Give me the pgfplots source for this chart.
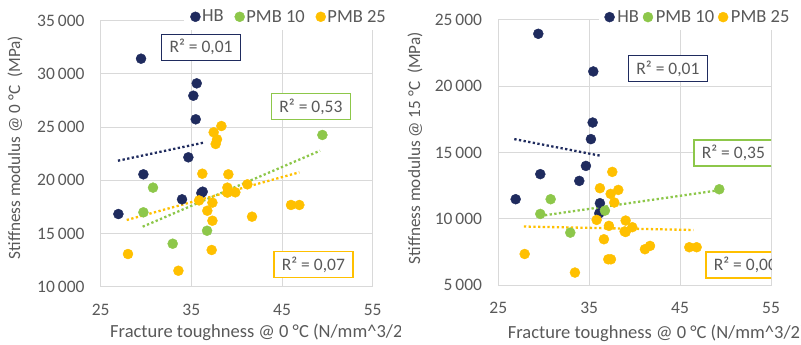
\documentclass[border=0pt]{standalone}
\usepackage{fontspec}
\setmainfont{Carlito}
\usepackage{pgfplots}
\pgfplotsset{compat=1.18}
\definecolor{hb}{HTML}{1F2B5E}
\definecolor{pmbA}{HTML}{8DC74A}
\definecolor{pmbB}{HTML}{FFC000}
\definecolor{gridc}{HTML}{D9D9D9}
\definecolor{txt}{HTML}{595959}
\tikzset{
 rbox/.style={draw=#1, line width=1.5pt, fill=white, minimum width=79pt, minimum height=26pt, inner sep=0pt, font=\fontsize{17.5}{20}\selectfont, text=txt},
}
\pgfplotsset{
 mystyle/.style={
  scale only axis, width=272pt, height=266pt,
  xmin=25,xmax=55, xtick={25,35,45,55},
  grid=major, major grid style={gridc, line width=1pt},
  axis line style={gridc, line width=1pt},
  major tick length=0pt,
  tick label style={font=\fontsize{17.5}{20}\selectfont, text=txt, inner sep=0pt},
  xticklabel style={yshift=-17pt},
  yticklabel style={xshift=-16pt},
  /pgf/number format/assume math mode=true,
  /pgf/number format/1000 sep={\,},
  scaled y ticks=false,
  xlabel style={anchor=west, font=\fontsize{18.5}{22}\selectfont, text=txt},
  ylabel style={anchor=center, font=\fontsize{17.2}{20}\selectfont, text=txt},
  legend columns=-1,
  legend style={draw=none, fill=white, font=\fontsize{18.5}{22}\selectfont, text=txt, anchor=south west, inner xsep=6pt, inner ysep=4pt},
  legend image code/.code={\draw[#1] plot coordinates {(0pt,0pt)};},
 },
 pts/.style={only marks, mark=*, mark size=5pt, color=#1, mark options={draw=#1, fill=#1}},
 trend/.style={#1, dash pattern=on 2.3pt off 2.4pt, line width=2.3pt, forget plot},
}
\begin{document}
\begin{tikzpicture}
\useasboundingbox (0,0) rectangle (801pt,345pt);
\begin{scope}
\clip (0,0) rectangle (400pt,345pt);
\begin{axis}[mystyle, at={(100.7pt,58.3pt)}, anchor=south west,
  ymin=10000, ymax=35000, ytick={10000,15000,20000,25000,30000,35000},
  xlabel={Fracture toughness @ 0 °C (N/mm\textasciicircum 3/2)},
  ylabel={Stiffness modulus @ 0 °C\ \ (MPa)},
  xlabel style={at={(axis description cs:0.022,-0.173)}},
  ylabel style={at={(axis description cs:-0.315,0.523)}},
  legend style={at={(axis description cs:0.307,0.966)}, nodes={inner xsep=1.7pt, inner ysep=2pt},
     /tikz/every even column/.append style={column sep=9.3pt}}]
\addplot[pts=hb] coordinates {(29.45,31430) (35.59,29110) (35.22,27950) (35.48,25730) (34.67,22160) (29.71,20560) (36.25,18930) (36.10,18800) (33.97,18210) (26.95,16830)};
\addplot[pts=pmbA] coordinates {(49.45,24260) (30.77,19310) (29.71,16990) (36.73,15260) (32.94,14040)};
\addplot[pts=pmbB] coordinates {(38.31,25100) (37.46,24510) (37.83,23850) (37.68,23410) (36.21,20620) (39.08,20560) (38.97,19310) (39.85,18870) (41.18,19620) (38.97,18840) (35.85,18110) (37.32,17900) (36.76,17140) (37.32,16200) (41.69,16580) (45.99,17680) (46.91,17680) (37.24,13450) (28.01,13070) (33.57,11500)};
\legend{HB, PMB 10, PMB 25}
\addplot[trend=hb] coordinates {(26.9,21840) (36.3,23530)};
\addplot[trend=pmbA] coordinates {(29.63,15640) (49.19,22780)};
\addplot[trend=pmbB] coordinates {(27.87,16270) (46.91,20750)};
\node[rbox=hb] at (rel axis cs:0.369,0.900) {R² = 0,01};
\node[rbox=pmbA] at (rel axis cs:0.773,0.677) {R² = 0,53};
\node[rbox=pmbB] at (rel axis cs:0.782,0.083) {R² = 0,07};
\end{axis}
\end{scope}
\begin{axis}[mystyle, at={(498.3pt,59.7pt)}, anchor=south west,
  width=272.7pt, height=265.3pt,
  ymin=5000, ymax=25000, ytick={5000,10000,15000,20000,25000},
  xlabel={Fracture toughness @ 0 °C (N/mm\textasciicircum 3/2)},
  ylabel={Stiffness modulus @ 15 °C\ \ (MPa)},
  xlabel style={at={(axis description cs:0.022,-0.18)}},
  ylabel style={at={(axis description cs:-0.305,0.517)}},
  legend style={at={(axis description cs:0.367,0.962)}, nodes={inner xsep=2.85pt, inner ysep=2pt},
     /tikz/every even column/.append style={column sep=1.1pt}}]
\addplot[pts=hb] coordinates {(29.40,23960) (35.45,21120) (35.38,17270) (35.19,16020) (34.64,14000) (29.62,13380) (33.91,12870) (26.91,11490) (36.18,11190) (36.11,10430)};
\addplot[pts=pmbA] coordinates {(49.31,12240) (30.76,11490) (29.62,10380) (36.73,10630) (32.92,8970)};
\addplot[pts=pmbB] coordinates {(37.54,13550) (36.18,12320) (38.20,12190) (37.36,11890) (37.76,11240) (35.82,9930) (39.01,9880) (37.17,9480) (39.74,9380) (39.01,9020) (38.90,9060) (36.62,8470) (41.69,7970) (41.13,7720) (46.01,7870) (46.82,7870) (37.10,6960) (37.39,6960) (27.90,7360) (33.43,5960)};
\legend{HB, PMB 10, PMB 25}
\addplot[trend=hb] coordinates {(26.76,16020) (36.29,14760)};
\addplot[trend=pmbA] coordinates {(29.62,10230) (49.0,12140)};
\addplot[trend=pmbB] coordinates {(27.82,9430) (46.45,9170)};
\node[rbox=hb] at (rel axis cs:0.622,0.817) {R² = 0,01};
\node[rbox=pmbA] at (rel axis cs:0.862,0.499) {R² = 0,35};
\node[rbox=pmbB] at (rel axis cs:0.906,0.0765) {R² = 0,00};
\end{axis}
\end{tikzpicture}
\end{document}
